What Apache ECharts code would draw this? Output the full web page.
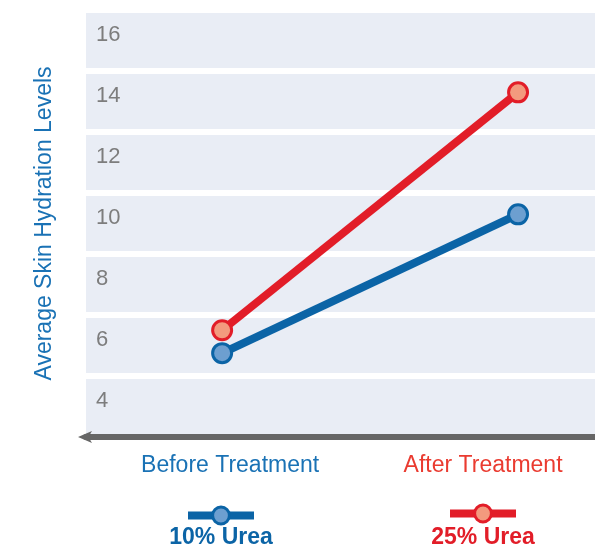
<!DOCTYPE html>
<html>
<head>
<meta charset="utf-8">
<script src="https://cdn.jsdelivr.net/npm/echarts@6/dist/echarts.min.js"></script>
<style>
  html, body { margin: 0; padding: 0; background: #fff; }
  #chart { width: 595px; height: 550px; }
</style>
</head>
<body>
<div id="chart"></div>
<script>
const categories = ['Before Treatment', 'After Treatment']
const urea10 = [5.75, 10.3]
const urea25 = [6.5, 14.3]
const yTicks = [4, 6, 8, 10, 12, 14, 16]

const FONT = 'Liberation Sans, Arial, Helvetica, sans-serif'
const BLUE = '#0b64a6'
const RED = '#e21d28'

const chart = echarts.init(document.getElementById('chart'))

chart.setOption({
  animation: false,
  textStyle: { fontFamily: FONT },
  grid: { left: 86, right: 0, top: 10, bottom: 113 },
  title: [
    {
      text: '10% Urea', left: 221, top: 526, textAlign: 'center', padding: 0,
      textStyle: { color: BLUE, fontSize: 23, fontWeight: 'bold', fontFamily: FONT }
    },
    {
      text: '25% Urea', left: 483, top: 526, textAlign: 'center', padding: 0,
      textStyle: { color: RED, fontSize: 23, fontWeight: 'bold', fontFamily: FONT }
    }
  ],
  // 图例只画线和圆点，文字用 title 放在下方
  legend: [
    {
      data: ['10% Urea'], left: 184, top: 505, padding: 0,
      itemWidth: 66, itemHeight: 21, formatter: () => '',
      lineStyle: { width: 8 }, itemStyle: { borderWidth: 3 }
    },
    {
      data: ['25% Urea'], left: 446, top: 503, padding: 0,
      itemWidth: 66, itemHeight: 21, formatter: () => '',
      lineStyle: { width: 8 }, itemStyle: { borderWidth: 3 }
    }
  ],
  xAxis: {
    type: 'value',
    min: -0.46,
    max: 1.26,
    splitLine: { show: false },
    axisTick: { show: false },
    axisLine: {
      show: true,
      onZero: false,
      symbol: ['arrow', 'none'],
      symbolSize: [9, 14],
      symbolOffset: [-8, 0],
      lineStyle: { color: '#666', width: 6 }
    },
    axisLabel: {
      customValues: [0, 1],
      margin: 17,
      formatter: (v) => v === 0 ? '{a|' + categories[0] + '}' : '{b|' + categories[1] + '}',
      rich: {
        a: { color: '#1a72b5', fontSize: 23, fontFamily: FONT, padding: [0, 0, 0, 16] },
        b: { color: '#ea3b30', fontSize: 23, fontFamily: FONT, padding: [0, 70, 0, 0] }
      }
    }
  },
  yAxis: {
    type: 'value',
    min: 3,
    max: 17,
    interval: 1,
    name: 'Average Skin Hydration Levels',
    nameLocation: 'middle',
    nameGap: 30,
    nameTextStyle: { color: '#1a72b5', fontSize: 23, fontFamily: FONT },
    axisLine: { show: false },
    axisTick: { show: false },
    axisLabel: {
      inside: true,
      margin: 10,
      color: '#7d7d7d',
      fontSize: 22,
      verticalAlign: 'bottom',
      lineHeight: 11,
      formatter: (v) => yTicks.includes(v) ? String(v) : ''
    },
    splitArea: { show: true, areaStyle: { color: ['#e9edf5'] } },
    // 奇数位置画白线，把背景分成一条条色带
    splitLine: {
      show: true,
      lineStyle: { color: ['#ffffff', 'rgba(0,0,0,0)'], width: 6 }
    }
  },
  series: [
    {
      name: '10% Urea',
      type: 'line',
      data: categories.map((c, i) => [i, urea10[i]]),
      symbol: 'circle',
      symbolSize: 19,
      lineStyle: { color: BLUE, width: 8 },
      itemStyle: { color: '#6d9fd0', borderColor: BLUE, borderWidth: 3 },
      z: 3
    },
    {
      name: '25% Urea',
      type: 'line',
      data: categories.map((c, i) => [i, urea25[i]]),
      symbol: 'circle',
      symbolSize: 19,
      lineStyle: { color: RED, width: 8 },
      itemStyle: { color: '#f39a7e', borderColor: RED, borderWidth: 3 },
      z: 3
    }
  ]
})
</script>
</body>
</html>
